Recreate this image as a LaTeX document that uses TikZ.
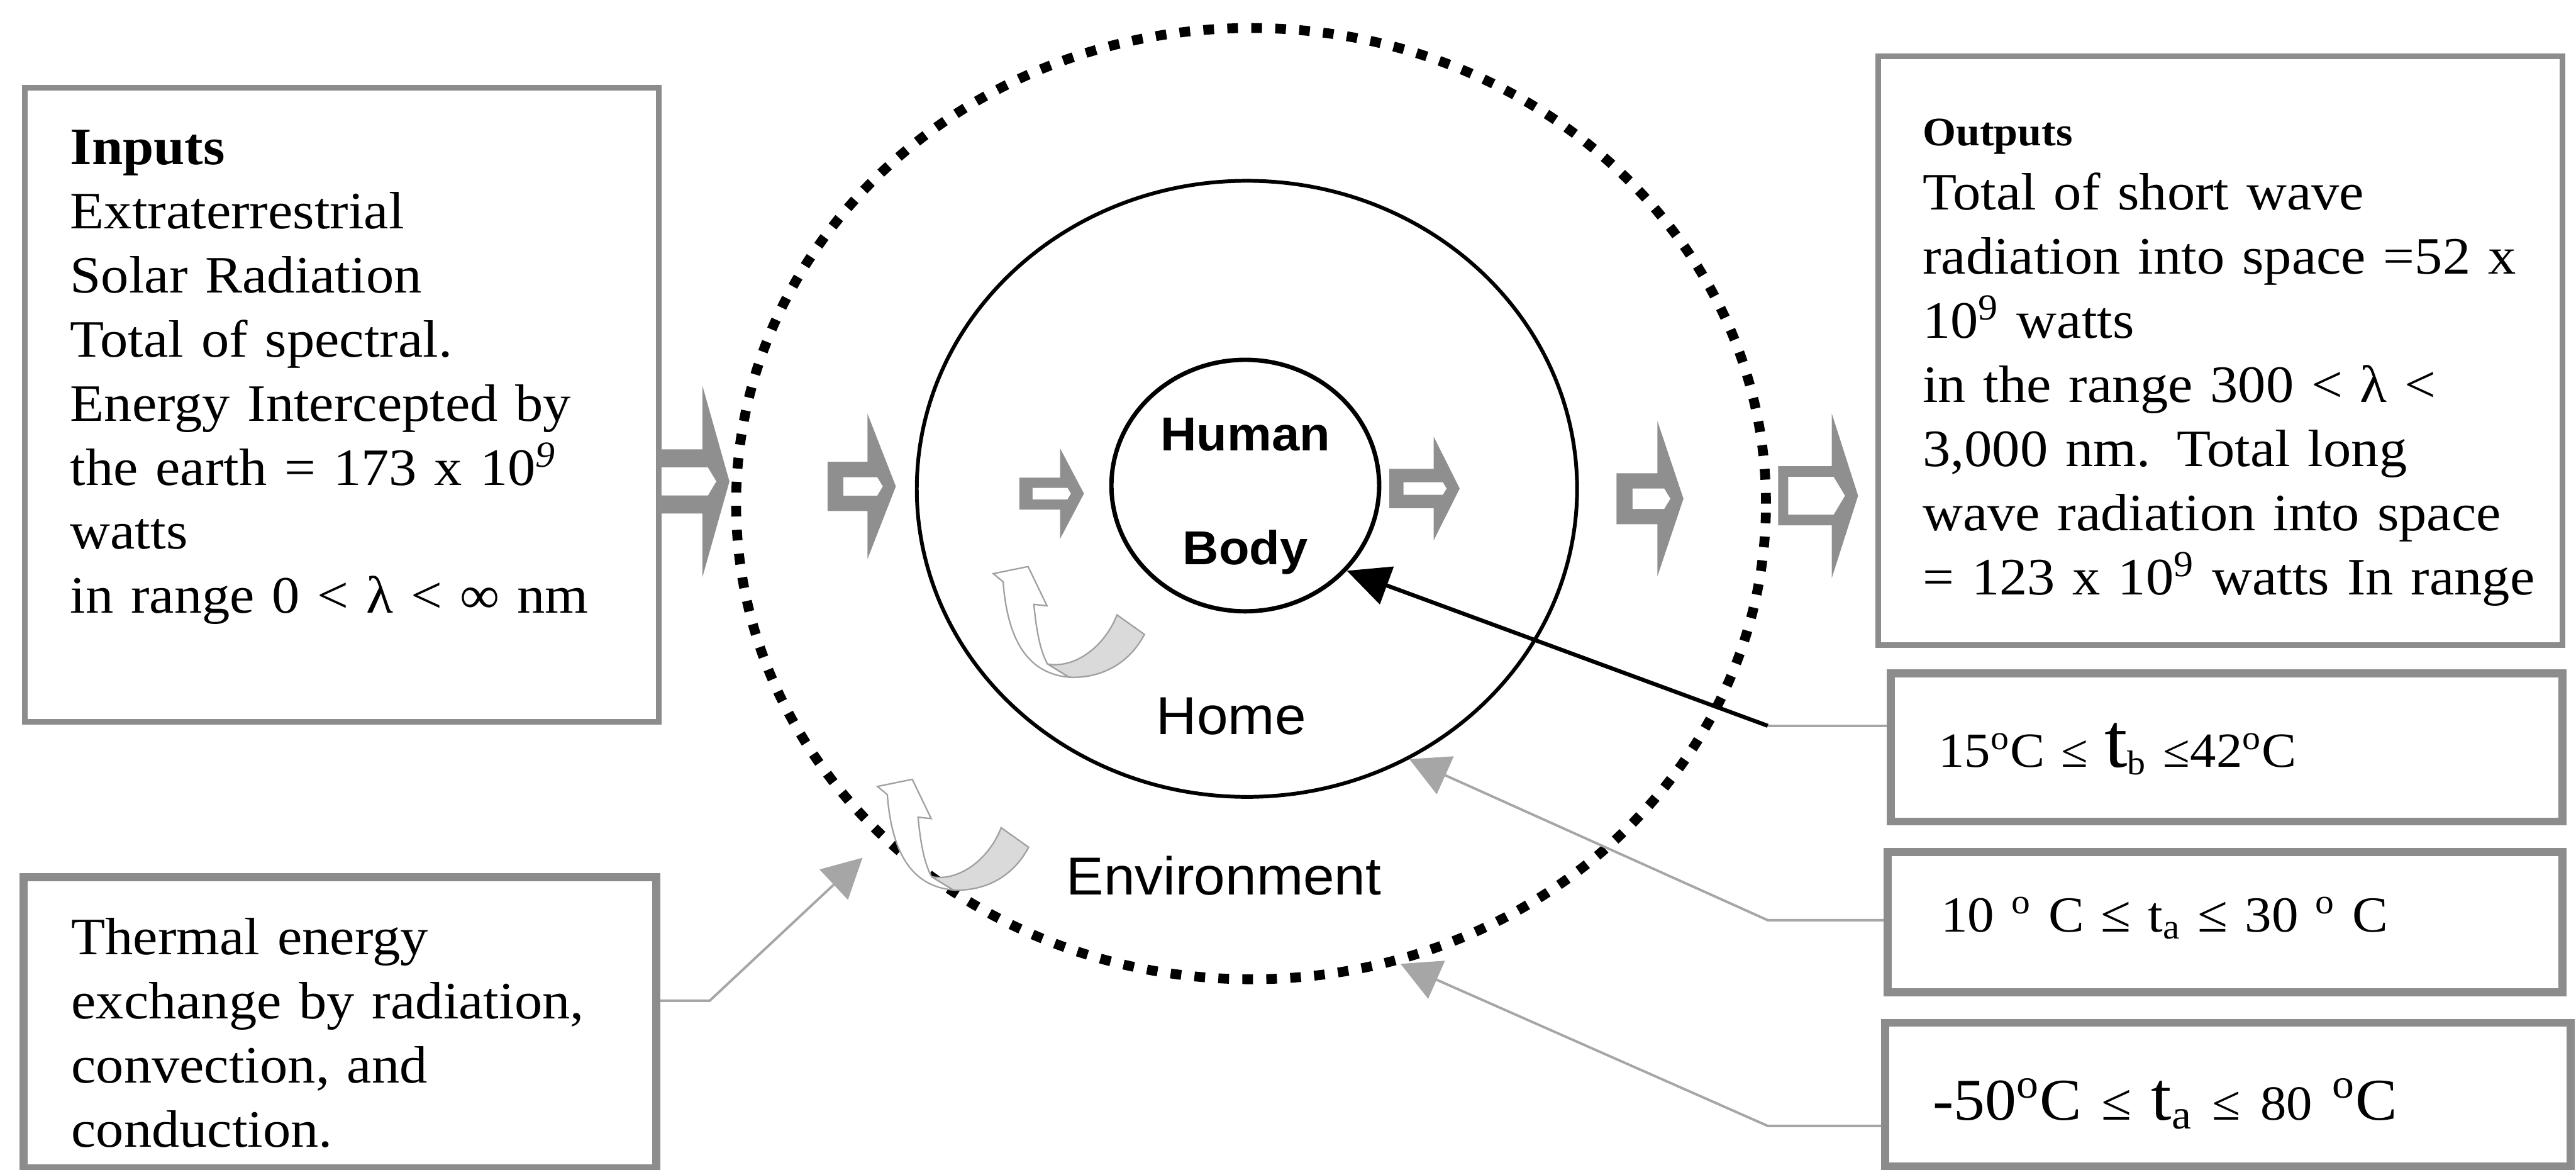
\documentclass[tikz,border=0pt]{standalone}
\usepackage{fontspec}
\setmainfont{Liberation Serif}[FakeStretch=1.06]
\newfontfamily\labelsans{Liberation Sans}[FakeStretch=1.05]
\usepackage{tikz}
\usetikzlibrary{arrows.meta, positioning, shapes.geometric, calc}
\definecolor{BoxGray}{HTML}{8C8C8C}
\definecolor{ArrowGray}{HTML}{8F8F8F}
\definecolor{LineGray}{HTML}{A6A6A6}
\definecolor{BandGray}{HTML}{DADADA}
\definecolor{EdgeGray}{HTML}{A0A0A0}

% hollow block arrow: shaft start, head base, tip, centre y, shaft half, hole half, head half, rim
\newcommand{\flowarrow}[8]{%
  \fill[ArrowGray] (#1,#4-#5) -- (#2,#4-#5) -- (#2,#4-#7) -- (#3,#4)
    -- (#2,#4+#7) -- (#2,#4+#5) -- (#1,#4+#5) -- cycle;
  \fill[white] (#1+#8,#4-#6) -- (#3-8-0.6*#6,#4-#6) -- (#3-8,#4)
    -- (#3-8-0.6*#6,#4+#6) -- (#1+#8,#4+#6) -- cycle;}

\tikzset{
  boxline/.style={rectangle, draw=BoxGray, line width=2pt, anchor=north west,
    inner ysep=0pt, align=left, font=\fontsize{18.2}{22.2}\selectfont},
  heavybox/.style={boxline, line width=2.8pt},
  ringline/.style={ellipse, draw, inner sep=0pt},
  envring/.style={ringline, line width=3.4pt, dash pattern=on 0.13cm off 0.162cm},
  homering/.style={ringline, line width=1.3pt},
  bodyring/.style={ringline, line width=1.5pt, align=center,
    font=\labelsans\bfseries\fontsize{16.5}{39.4}\selectfont},
  ringlabel/.style={inner sep=0pt, font=\labelsans\fontsize{18.5}{22}\selectfont},
  feedline/.style={draw=LineGray, line width=0.85pt},
  feed/.style={feedline, -{Triangle[length=0.48cm, width=0.5cm]}},
  bodyarrow/.style={draw=black, line width=1.4pt, -{Triangle[length=0.52cm, width=0.48cm]}},
  curl/.pic={
    \filldraw[fill=BandGray, draw=EdgeGray, line width=0.5pt] (33,55) .. controls (50,58) and (68,44) .. (75.3,25.1)
      -- (92,37) .. controls (82,56) and (64,64) .. (46,63) -- cycle;
    \filldraw[fill=white, draw=EdgeGray, line width=0.5pt] (0,0) -- (21.2,-4.3) -- (32.7,19.6) -- (24.7,18.7)
      .. controls (26,32) and (28,46) .. (33,55) -- (46,63) .. controls (24,61) and (9,45) .. (6,5) -- cycle;
  },
}

\begin{document}
\begin{tikzpicture}[x=0.02cm, y=-0.02cm]
  \useasboundingbox (0,0) rectangle (1568,712);

  % text boxes
  \node[boxline, text width=6.614cm, inner xsep=0.55cm, text height=0.934cm, text depth=6.786cm] (inputs) at (13.5,51.7)
    {\textbf{Inputs}\\ Extraterrestrial\\ Solar Radiation\\ Total of spectral.\\ Energy Intercepted by\\
     the earth = 173 x 10\textsuperscript{\textit{9}}\\ watts\\ in range 0 < λ < ∞ nm};
  \node[boxline, text width=7.248cm, inner xsep=0.544cm, text height=1.09cm, text depth=6.078cm] (outputs) at (1141.4,32.5)
    {{\fontsize{14}{22.2}\selectfont\bfseries Outputs}\\ Total of short wave\\ \mbox{radiation into space =52 x}\\
     10\textsuperscript{9} watts\\ in the range 300 < λ <\\ 3,000 nm. Total long\\ \mbox{wave radiation into space}\\
     \mbox{= 123 x 10\textsuperscript{9} watts In range}};
  \node[heavybox, text width=6.54cm, inner xsep=0.58cm, text height=0.942cm, text depth=2.598cm] (thermal) at (12,531.5)
    {Thermal energy\\ exchange by radiation,\\ convection, and\\ conduction.};
  \node[heavybox, text width=7.02cm, inner xsep=0.58cm, text height=1.14cm, text depth=0.66cm,
    font=\fontsize{17}{20}\selectfont] (tbody) at (1148.5,407.5)
    {15\textsuperscript{o}C {\fontsize{16}{16}\selectfont ≤} {\fontsize{27}{27}\selectfont t}\textsubscript{b}
     {\fontsize{16}{16}\selectfont ≤}42\textsuperscript{o}C};
  \node[heavybox, text width=6.92cm, inner xsep=0.65cm, text height=0.97cm, text depth=0.74cm,
    font=\fontsize{17.5}{20}\selectfont] (thome) at (1146.5,516)
    {10 \textsuperscript{o} C {\fontsize{18}{18}\selectfont ≤} t\textsubscript{a} {\fontsize{18}{18}\selectfont ≤} 30 \textsuperscript{o} C};
  \node[heavybox, text width=7.19cm, inner xsep=0.58cm, text height=1.18cm, text depth=0.57cm,
    font=\fontsize{20.5}{24}\selectfont] (tenv) at (1145,620)
    {-50\textsuperscript{o}C {\fontsize{18}{18}\selectfont ≤} {\fontsize{24}{24}\selectfont t}\textsubscript{a}
     {\fontsize{17}{17}\selectfont ≤ 80} \textsuperscript{o}C};

  % energy flow arrows
  \flowarrow{400}{427.5}{444}{293}{19.5}{8.5}{58.5}{2.7}
  \flowarrow{503.7}{528}{545.3}{296}{15}{5.6}{44.3}{9.7}
  \flowarrow{620.5}{645.3}{659.8}{300.4}{9.7}{3.5}{27.5}{8}
  \flowarrow{845.7}{872.7}{888.5}{297.3}{12}{3.8}{31.5}{8.6}
  \flowarrow{984}{1008.8}{1024.7}{303.5}{15.5}{6.2}{47.4}{9.7}
  \flowarrow{1082.3}{1115}{1131}{301.7}{18}{11.5}{50}{6.2}

  % nested systems
  \node[envring, minimum width=12.54cm, minimum height=11.58cm] (env) at (761.5,306.5) {};
  \node[homering, minimum width=8.04cm, minimum height=7.5cm] (home) at (759,297.5) {};
  \node[bodyring, minimum width=3.26cm, minimum height=2.82cm] (body) at (758,295.5) {\rule{0pt}{0.66cm}Human\\Body};
  \node[ringlabel] (homelabel) at (749.5,436) {Home};
  \node[ringlabel] (envlabel) at (745,532.8) {Environment};

  % exchange loops
  \pic at (604.6,349.1) {curl};
  \pic at (534.1,478.6) {curl};

  % connectors
  \coordinate (thbend) at (432,609);
  \coordinate (envtip) at (525,522);
  \draw[feed] (thermal.east |- thbend) -- (thbend) -- (envtip);
  \coordinate (tbbend) at (1076,441.7);
  \draw[feedline] (tbody.west |- tbbend) -- (tbbend);
  \draw[bodyarrow] (tbbend) -- (body.-40);
  \coordinate (thbend2) at (1076,560);
  \draw[feed] (thome.west |- thbend2) -- (thbend2) -- (home.-59);
  \coordinate (tebend) at (1076,685.2);
  \draw[feed] (tenv.west |- tebend) -- (tebend) -- (env.-72);
\end{tikzpicture}
\end{document}
